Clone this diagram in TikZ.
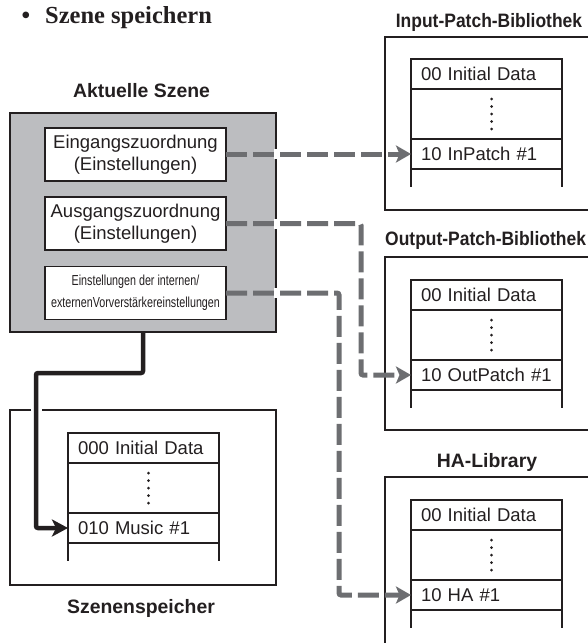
\documentclass[tikz,border=0pt]{standalone}
\usepackage{fontspec}
\setmainfont{Liberation Sans}
\newfontfamily\titlefont{Liberation Serif}
\newfontfamily\narrowfont[FakeStretch=0.74]{Liberation Sans}
\newfontfamily\condfont[FakeStretch=0.9]{Liberation Sans}
\usetikzlibrary{arrows.meta,calc}
\definecolor{ink}{HTML}{231F20}
\definecolor{panelgray}{HTML}{BCBDC0}
\definecolor{dashgray}{HTML}{6D6E71}
\tikzset{
  frame/.style={draw=ink, line width=2.6pt, outer sep=0pt, inner sep=0pt},
  panelbox/.style={frame, fill=panelgray, minimum width=266pt, minimum height=219pt},
  setbox/.style={draw=ink, line width=1.2pt, fill=white, text=ink, outer sep=0pt,
    minimum width=181pt, minimum height=53pt, align=center, inner sep=0pt,
    font=\fontsize{18.5}{22}\selectfont},
  lbl/.style={anchor=base, inner sep=0pt, text=ink, font=\bfseries\fontsize{19.4}{22}\selectfont},
  clbl/.style={lbl, font=\condfont\bfseries\fontsize{19.4}{22}\selectfont},
  cell/.style={draw=ink, line width=1.2pt, fill=white, text=ink, anchor=north west,
    inner xsep=10pt, inner ysep=0pt, text width=131pt, align=left, outer sep=0pt,
    minimum width=151pt, font=\fontsize{18.5}{21}\selectfont},
  tabline/.style={draw=ink, line width=1.2pt},
  conn/.style={draw=dashgray, line width=5pt, dash pattern=on 21pt off 6pt,
    rounded corners=2pt, -{Stealth[length=15pt,width=17pt,inset=3.5pt]}},
  blk/.style={draw=ink, line width=4.5pt, rounded corners=2pt,
    -{Stealth[length=16pt,width=17pt,inset=4pt]}}
}
\newcommand{\mktable}[5]{%
  \node[cell, minimum height=30pt] (#1a) at (#2,#3) {#4};
  \node[cell, minimum height=50pt] (#1b) at (#1a.south west) {};
  \node[cell, minimum height=30pt] (#1c) at (#1b.south west) {#5};
  \draw[tabline] (#1c.south west) -- ++(0,18);
  \draw[tabline] (#1c.south east) -- ++(0,18);
  \foreach \k in {0,...,4} \fill[ink] ($(#1b.center)+(5,-15+7.5*\k)$) circle[radius=1.5pt];
}
\begin{document}
\begin{tikzpicture}[x=1pt,y=-1pt]
\useasboundingbox (0,0) rectangle (588,643);
\clip (0,0) rectangle (588,643);
% title
\node[anchor=base, inner sep=0pt, text=ink, font=\titlefont\bfseries\fontsize{24.5}{28}\selectfont] (bul) at (26,23) {\textbullet};
\node[anchor=base west, inner sep=0pt, text=ink, font=\titlefont\bfseries\fontsize{24.5}{28}\selectfont] (title) at (45,23) {Szene speichern};
% current scene
\node[lbl] (lblcur) at (141.5,97) {Aktuelle Szene};
\node[panelbox] (panel) at (143,222.5) {};
\node[setbox] (ein) at (135.5,154.5) {Eingangszuordnung\\(Einstellungen)};
\node[setbox] (aus) at (135.5,223.5) {Ausgangszuordnung\\(Einstellungen)};
\node[setbox, font=\narrowfont\fontsize{14.5}{22}\selectfont] (vvbox) at (135.5,293) {Einstellungen der internen/\\externenVorverst\"arkereinstellungen};
% scene memory
\node[frame, minimum width=266pt, minimum height=175pt] (scframe) at (143,497.5) {};
\node[lbl] (lblsc) at (141,613) {Szenenspeicher};
\mktable{mus}{68}{433}{000 Initial Data}{010 Music \#1}
% input library
\node[clbl] (lblin) at (489,27) {Input-Patch-Bibliothek};
\node[frame, anchor=north west, minimum width=215pt, minimum height=173pt] (inframe) at (385,37) {};
\mktable{in}{411}{59}{00 Initial Data}{10 InPatch \#1}
% output library
\node[clbl, anchor=base west] (lblout) at (385,245) {Output-Patch-Bibliothek};
\node[frame, anchor=north west, minimum width=215pt, minimum height=173pt] (outframe) at (385,257) {};
\mktable{out}{411}{280}{00 Initial Data}{10 OutPatch \#1}
% HA library
\node[lbl] (lblha) at (487,467) {HA-Library};
\node[frame, anchor=north west, minimum width=215pt, minimum height=190pt] (haframe) at (385,477) {};
\mktable{ha}{411}{500}{00 Initial Data}{10 HA \#1}
% connectors
\coordinate (xout) at (361,0);
\coordinate (xha) at (339,0);
\coordinate (xblk) at (36,0);
\coordinate (yblk) at (0,373);
\draw[conn] (ein.east |- inc.west) -- (inc.west);
\draw[conn] (aus.east) -- (aus.east -| xout) |- (outc.west);
\draw[conn] (vvbox.east) -- (vvbox.east -| xha) |- (hac.west);
\fill[white] ($(panel.east |- inc.west)+(-2.5,-5)$) rectangle ++(5,10);
\fill[white] ($(panel.east |- aus.east)+(-2.5,-5)$) rectangle ++(5,10);
\fill[white] ($(panel.east |- vvbox.east)+(-2.5,-5)$) rectangle ++(5,10);
\fill[white] ($(xblk |- scframe.north)+(-5.5,-3)$) rectangle ++(11,6);
\draw[blk] (panel.south) |- (yblk -| xblk) |- (musc.west);
\end{tikzpicture}
\end{document}
